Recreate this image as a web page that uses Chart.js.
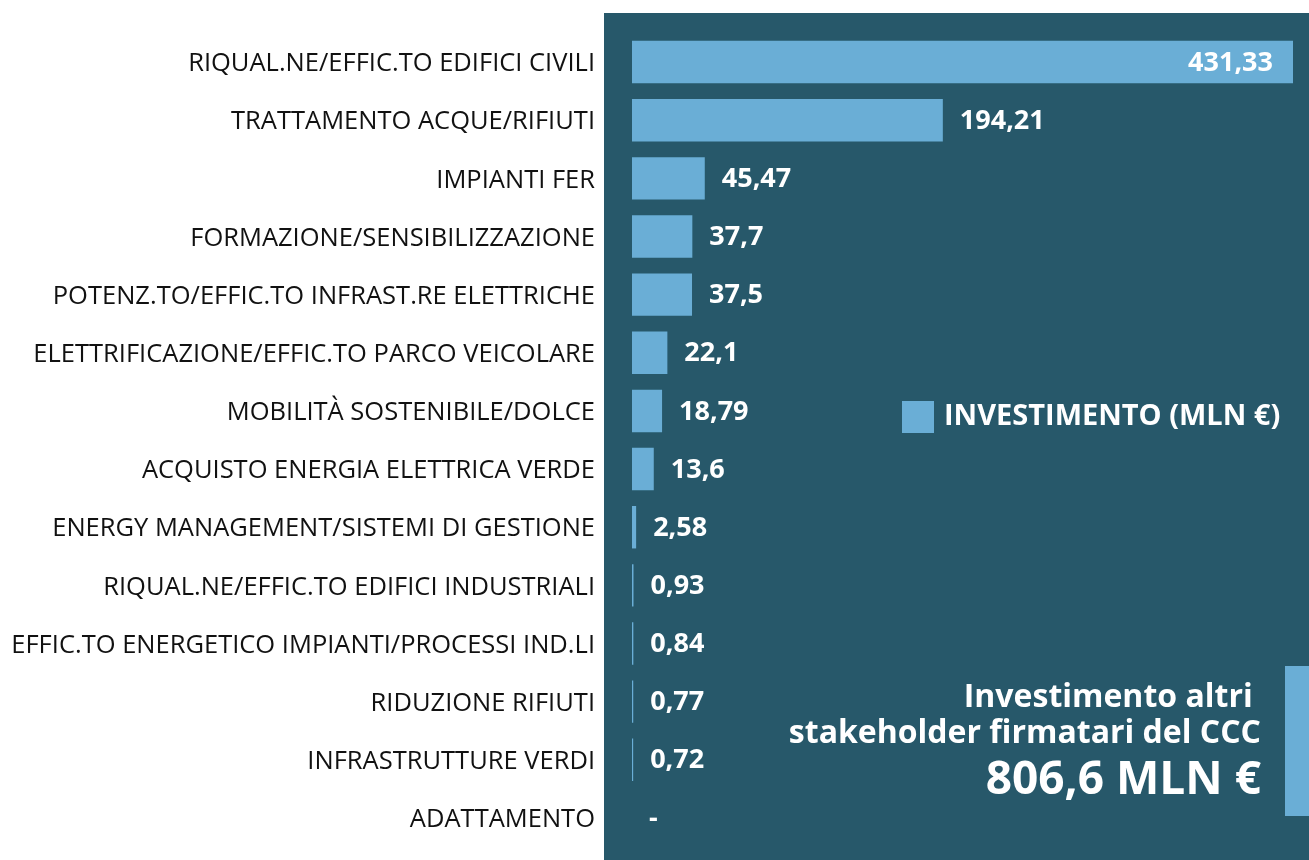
<!DOCTYPE html>
<html>
<head>
<meta charset="utf-8">
<script src="https://cdn.jsdelivr.net/npm/chart.js@4.4.1/dist/chart.umd.min.js"></script>
<style>
  html, body { margin: 0; padding: 0; background: #ffffff; }
  #wrap { width: 1309px; height: 860px; }
</style>
</head>
<body>
<div id="wrap"><canvas id="chart" width="1309" height="860"></canvas></div>
<script>
// Interventi finanziati e relativo investimento (milioni di euro)
const categories = [
  'RIQUAL.NE/EFFIC.TO EDIFICI CIVILI',
  'TRATTAMENTO ACQUE/RIFIUTI',
  'IMPIANTI FER',
  'FORMAZIONE/SENSIBILIZZAZIONE',
  'POTENZ.TO/EFFIC.TO INFRAST.RE ELETTRICHE',
  'ELETTRIFICAZIONE/EFFIC.TO PARCO VEICOLARE',
  'MOBILITÀ SOSTENIBILE/DOLCE',
  'ACQUISTO ENERGIA ELETTRICA VERDE',
  'ENERGY MANAGEMENT/SISTEMI DI GESTIONE',
  'RIQUAL.NE/EFFIC.TO EDIFICI INDUSTRIALI',
  'EFFIC.TO ENERGETICO IMPIANTI/PROCESSI IND.LI',
  'RIDUZIONE RIFIUTI',
  'INFRASTRUTTURE VERDI',
  'ADATTAMENTO'
];
const investimento = [431.33, 194.21, 45.47, 37.7, 37.5, 22.1, 18.79, 13.6, 2.58, 0.93, 0.84, 0.77, 0.72, 0];
const seriesLabel = 'INVESTIMENTO (MLN €)';
const noteLines = ['Investimento altri ', 'stakeholder firmatari del CCC'];
const noteTotal = '806,6 MLN €';
// the axis stops short of the largest bar, which is cut at the edge
const axisMax = 413;

const PANEL = '#27586a';
const BAR = '#6aaed6';
const FONT = '"Open Sans", "Noto Sans", sans-serif';

function fmt(v) {
  return v === 0 ? '-' : String(v).replace('.', ',');
}

// dark panel behind the plot area
const panelPlugin = {
  id: 'panel',
  beforeDraw(chart) {
    const { ctx, chartArea, width, height } = chart;
    ctx.save();
    ctx.fillStyle = '#ffffff';
    ctx.fillRect(0, 0, width, height);
    ctx.fillStyle = PANEL;
    ctx.fillRect(chartArea.left - 28, chartArea.top - 20, width - (chartArea.left - 28), height);
    ctx.restore();
  }
};

// value labels next to (or inside) each bar
const valuePlugin = {
  id: 'values',
  afterDatasetsDraw(chart) {
    const { ctx, chartArea } = chart;
    const meta = chart.getDatasetMeta(0);
    const data = chart.data.datasets[0].data;
    ctx.save();
    ctx.font = 'bold 27px ' + FONT;
    ctx.fillStyle = '#ffffff';
    ctx.textBaseline = 'middle';
    meta.data.forEach((bar, i) => {
      const v = data[i];
      const txt = fmt(v);
      if (bar.x > chartArea.right) {
        ctx.textAlign = 'right';
        ctx.fillText(txt, chartArea.right - 20, bar.y + 1);
      } else {
        ctx.textAlign = 'left';
        ctx.fillText(txt, Math.max(bar.x, chartArea.left) + 17, bar.y + 1);
      }
    });
    ctx.restore();
  }
};

// legend swatch and the total box on the right
const overlayPlugin = {
  id: 'overlay',
  afterDraw(chart) {
    const { ctx, width } = chart;
    const ds = chart.data.datasets[0];
    ctx.save();
    // legend
    ctx.fillStyle = ds.backgroundColor;
    ctx.fillRect(902, 401, 32, 32);
    ctx.fillStyle = '#ffffff';
    ctx.font = 'bold 29px ' + FONT;
    ctx.textAlign = 'left';
    ctx.textBaseline = 'middle';
    ctx.fillText(ds.label, 944, 417);
    // total note
    ctx.fillStyle = BAR;
    ctx.fillRect(1285, 666, width - 1285, 150);
    ctx.fillStyle = '#ffffff';
    ctx.textAlign = 'right';
    ctx.textBaseline = 'alphabetic';
    ctx.font = 'bold 32px ' + FONT;
    ctx.fillText(noteLines[0], 1261, 707);
    ctx.fillText(noteLines[1], 1261, 743);
    ctx.font = 'bold 46px ' + FONT;
    ctx.fillText(noteTotal, 1261, 794);
    ctx.restore();
  }
};

new Chart(document.getElementById('chart'), {
  type: 'bar',
  data: {
    labels: categories,
    datasets: [{
      label: seriesLabel,
      data: investimento,
      backgroundColor: BAR,
      borderWidth: 0,
      categoryPercentage: 1,
      barPercentage: 0.73
    }]
  },
  options: {
    indexAxis: 'y',
    responsive: false,
    animation: false,
    devicePixelRatio: 1,
    layout: { padding: { top: 33, bottom: 13, left: 0, right: 16 } },
    plugins: {
      legend: { display: false },
      tooltip: { enabled: false }
    },
    scales: {
      x: {
        display: false,
        min: 0,
        max: axisMax
      },
      y: {
        grid: { display: false, drawTicks: false },
        border: { display: false },
        ticks: {
          color: '#111111',
          padding: 37,
          labelOffset: 2,
          font: { family: FONT, size: 25.5 }
        },
        afterFit(scale) {
          scale.width = 632;
          scale.paddingTop = 0;
          scale.paddingBottom = 0;
        }
      }
    }
  },
  plugins: [panelPlugin, valuePlugin, overlayPlugin]
});
</script>
</body>
</html>
